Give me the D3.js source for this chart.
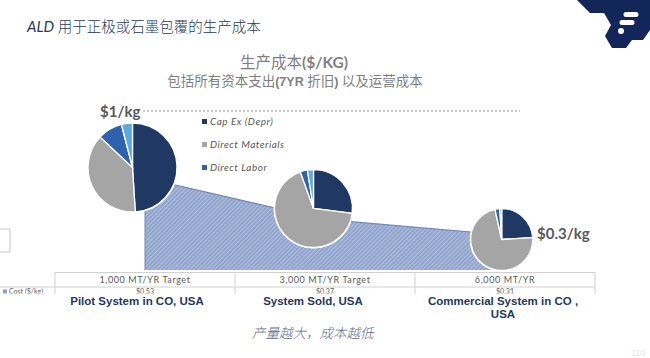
<!DOCTYPE html>
<html><head><meta charset="utf-8">
<script src="https://cdn.jsdelivr.net/npm/d3@7"></script>
<style>
html,body{margin:0;padding:0;background:#fff;}
svg{display:block;}
</style></head>
<body>
<svg id="chart" width="650" height="358"></svg>
<script>
// ---------- data ----------
const categories = ["1,000 MT/YR Target", "3,000 MT/YR Target", "6,000  MT/YR"];
const costValues = [0.53, 0.37, 0.31];
const costLabels = ["$0.53", "$0.37", "$0.31"];
const systemLabels = [["Pilot System in CO, USA"], ["System Sold, USA"], ["Commercial System in CO ,", "USA"]];
const pieSeries = ["Cap Ex (Depr)", "Direct Materials", "Direct Labor", "Other"];
const capEx = [49, 27, 24];
const directMaterials = [38, 67.5, 72.5];
const directLabor = [9, 3, 2.5];
const other = [4, 2.5, 1];
const legendItems = ["Cap Ex (Depr)", "Direct Materials", "Direct Labor"];
const titleLatin = "ALD";
const titleCJK = "用于正极或石墨包覆的生产成本";
const subtitle1 = ["生产成本", "($/KG)"];
const subtitle2 = ["包括所有资本支出", "(7YR ", "折旧", ") ", "以及运营成本"];
const caption = "产量越大，成本越低";
const startLabel = "$1/kg";
const endLabel = "$0.3/kg";

// ---------- layout ----------
const svg = d3.select("#chart");
const colors = d3.scaleOrdinal().domain(pieSeries).range(["#1f3864", "#a5a5a5", "#2e62ad", "#5fa8de"]);
const hand = "'Comic Sans MS','Lato','Open Sans',sans-serif";
const cjk = "'Noto Sans CJK SC',sans-serif";

const tableLeft = 55, tableRight = 595;
const x = d3.scaleBand().domain(categories).range([tableLeft, tableRight]);
const xc = d => x(d) + x.bandwidth() / 2;
const y = d3.scaleLinear().domain([0.175, 0.53]).range([270, 178]);

// pattern for area
const defs = svg.append("defs");
const pat = defs.append("pattern").attr("id", "hatch").attr("patternUnits", "userSpaceOnUse")
  .attr("width", 3).attr("height", 3).attr("patternTransform", "rotate(45)");
pat.append("rect").attr("width", 3).attr("height", 3).attr("fill", "#8fa3cc");
pat.append("rect").attr("width", 1.2).attr("height", 3).attr("fill", "#adbddd");
defs.append("clipPath").attr("id", "rowclip").append("rect")
  .attr("x", 0).attr("y", 287.5).attr("width", 650).attr("height", 6);

// title
const t = svg.append("text").attr("x", 27).attr("y", 32).attr("fill", "#2b3a5c").attr("font-size", 15);
t.append("tspan").attr("font-family", hand).attr("font-style", "italic").text(titleLatin + " ");
t.append("tspan").attr("font-family", cjk).attr("font-size", 14.5).attr("font-weight", 300).text(titleCJK);

// top-right logo
svg.append("path").attr("d", "M577,0 L650,0 L650,30 L643,40 L632,40 L626,48 L612,48 L605,36 L611,25 L604,13 L590,13 Z")
  .attr("fill", "#12265a");
svg.append("path").attr("d", "M626,12 h10 a2.5,2.5 0 0 1 0,5 h-10 a2.5,2.5 0 0 1 0,-5 Z M622,20 h10 a2.5,2.5 0 0 1 0,5 h-10 a2.5,2.5 0 0 1 0,-5 Z")
  .attr("fill", "#fff");
svg.append("circle").attr("cx", 621).attr("cy", 31).attr("r", 3).attr("fill", "#fff");

// subtitles
const s1 = svg.append("text").attr("x", 294).attr("y", 68).attr("text-anchor", "middle").attr("fill", "#7f7f7f")
  .attr("font-family", cjk).attr("font-size", 15.5);
s1.append("tspan").text(subtitle1[0]);
s1.append("tspan").attr("font-family", hand).attr("font-weight", "bold").text(subtitle1[1]);
const s2 = svg.append("text").attr("x", 295).attr("y", 86).attr("text-anchor", "middle").attr("fill", "#7f7f7f")
  .attr("font-family", cjk).attr("font-size", 13.5);
subtitle2.forEach((s, i) => {
  const sp = s2.append("tspan").text(s);
  if (i === 1 || i === 3) sp.attr("font-family", "'Liberation Sans',sans-serif").attr("font-weight", "bold").attr("font-size", 12.5);
});

// dotted line and $1/kg
svg.append("line").attr("x1", 143).attr("x2", 520).attr("y1", 111).attr("y2", 111)
  .attr("stroke", "#9a9a9a").attr("stroke-width", 1.2).attr("stroke-dasharray", "2,2");
svg.append("text").attr("x", 100).attr("y", 117).attr("fill", "#595959").attr("font-family", hand)
  .attr("font-size", 15).attr("font-weight", "bold").text(startLabel);

// left stray box
svg.append("rect").attr("x", -1).attr("y", 229).attr("width", 11).attr("height", 23)
  .attr("fill", "none").attr("stroke", "#c8c8c8");

// area
const pts = categories.map((c, i) => [xc(c), costValues[i]]);
const area = d3.area().x(d => d[0]).y0(y(0.175)).y1(d => y(d[1]));
svg.append("path").datum(pts).attr("d", area).attr("fill", "url(#hatch)");
svg.append("path").datum(pts).attr("d", d3.line().x(d => d[0]).y(d => y(d[1])))
  .attr("fill", "none").attr("stroke", "#7086b5").attr("stroke-width", 1.2);
svg.append("line").attr("x1", xc(categories[0])).attr("x2", xc(categories[0]))
  .attr("y1", y(costValues[0])).attr("y2", y(0.175)).attr("stroke", "#7086b5").attr("stroke-width", 1);

// table
const tg = svg.append("g");
tg.append("line").attr("x1", tableLeft).attr("x2", tableRight).attr("y1", 272.5).attr("y2", 272.5).attr("stroke", "#d0d0d0");
tg.append("line").attr("x1", 0).attr("x2", tableRight).attr("y1", 287).attr("y2", 287).attr("stroke", "#d0d0d0");
[tableLeft, ...categories.map(c => x(c) + x.bandwidth())].forEach(v => {
  tg.append("line").attr("x1", v).attr("x2", v).attr("y1", 272.5).attr("y2", 294).attr("stroke", "#d0d0d0");
});
categories.forEach(c => {
  tg.append("text").attr("x", xc(c)).attr("y", 283).attr("text-anchor", "middle").attr("fill", "#595959")
    .attr("font-family", hand).attr("font-size", 9).attr("letter-spacing", 0.6).text(c);
});
const rowg = tg.append("g").attr("clip-path", "url(#rowclip)");
costLabels.forEach((l, i) => {
  rowg.append("text").attr("x", xc(categories[i])).attr("y", 294).attr("text-anchor", "middle").attr("fill", "#595959")
    .attr("font-family", hand).attr("font-size", 7).text(l);
});
tg.append("rect").attr("x", 3).attr("y", 289.5).attr("width", 4).attr("height", 4).attr("fill", "#8ea2c9");
rowg.append("text").attr("x", 9).attr("y", 294).attr("fill", "#595959").attr("font-family", hand)
  .attr("font-size", 7).text("Cost ($/kg)");

// system labels
systemLabels.forEach((lines, i) => {
  const cx = [137, 313, 503][i];
  lines.forEach((ln, j) => {
    svg.append("text").attr("x", cx).attr("y", 305 + j * 13).attr("text-anchor", "middle")
      .attr("fill", "#1f3864").attr("font-family", "'Liberation Sans',Arial,sans-serif")
      .attr("font-weight", "bold").attr("font-size", 11.5).text(ln);
  });
});

// pies
const pieLayout = [
  {cx: 132.5, cy: 167.5, r: 44.5},
  {cx: 313.5, cy: 208.5, r: 39},
  {cx: 501.7, cy: 239.5, r: 31}
];
const pie = d3.pie().sort(null).value(d => d.v);
const arc = d3.arc().innerRadius(0);
pieLayout.forEach((p, i) => {
  const data = [capEx[i], directMaterials[i], directLabor[i], other[i]].map((v, k) => ({k: pieSeries[k], v}));
  const g = svg.append("g").attr("transform", `translate(${p.cx},${p.cy})`);
  g.append("circle").attr("r", p.r + 1).attr("fill", "#fff");
  g.selectAll("path").data(pie(data)).join("path")
    .attr("d", d => arc.outerRadius(p.r)(d))
    .attr("fill", d => colors(d.data.k)).attr("stroke", "#fff").attr("stroke-width", 1.3);
});

// end label
svg.append("text").attr("x", 537).attr("y", 239).attr("fill", "#595959").attr("font-family", hand)
  .attr("font-size", 15).attr("font-weight", "bold").text(endLabel);

// legend
legendItems.forEach((l, i) => {
  const ly = 122 + i * 23;
  svg.append("rect").attr("x", 202).attr("y", ly - 3).attr("width", 5).attr("height", 5).attr("fill", colors(l));
  svg.append("text").attr("x", 210).attr("y", ly + 3).attr("fill", "#595959").attr("font-family", hand)
    .attr("font-style", "italic").attr("font-size", 10).attr("letter-spacing", 0.5).text(l);
});

// caption
svg.append("text").attr("x", 252).attr("y", 338).attr("fill", "#5d6b8c")
  .attr("font-family", cjk).attr("font-style", "italic").attr("font-weight", 300).attr("font-size", 13.5).text(caption);
svg.append("text").attr("x", 645).attr("y", 356).attr("text-anchor", "end").attr("fill", "#e6e6e6")
  .attr("font-family", "sans-serif").attr("font-size", 9).text("110");
</script>
</body></html>
